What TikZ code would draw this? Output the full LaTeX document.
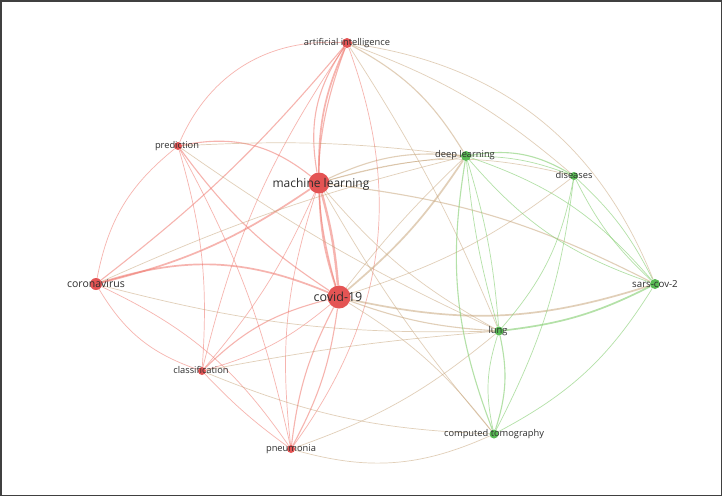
\documentclass[tikz,border=0pt]{standalone}
\usepackage{fontspec}
\setmainfont{Open Sans}
\pgfdeclarelayer{bgzero}
\pgfdeclarelayer{background}
\pgfsetlayers{bgzero,background,main}
\definecolor{rn}{RGB}{228,84,84}
\definecolor{gn}{RGB}{88,186,84}
\definecolor{re}{RGB}{240,120,110}
\definecolor{ge}{RGB}{130,205,110}
\definecolor{me}{RGB}{196,160,115}
\definecolor{lbltxt}{RGB}{45,45,45}
\tikzset{
  rnode/.style={circle,fill=rn,inner sep=0pt},
  gnode/.style={circle,fill=gn,inner sep=0pt},
  lbl/.style={text=lbltxt,inner sep=0pt,font=\fontsize{9.3}{9.3}\selectfont},
  redE/.style={draw=re,draw opacity=0.55,line width=0.7pt},
  grnE/.style={draw=ge,draw opacity=0.6,line width=0.7pt},
  mixE/.style={draw=me,draw opacity=0.5,line width=0.7pt},
  med/.style={line width=1.1pt},
  thk/.style={line width=1.7pt},
  vthk/.style={line width=2.4pt},
}
\begin{document}
\begin{tikzpicture}[x=1pt,y=-1pt]
\useasboundingbox (0,0) rectangle (722,496);
\begin{pgfonlayer}{bgzero}
\fill[white] (0,0) rectangle (722,496);
\end{pgfonlayer}
\draw[line width=1.5pt,black!75] (0.75,0.75) rectangle (721.25,495.25);
% nodes
\node[rnode,minimum size=10pt] (AI) at (347,43) {};
\node[rnode,minimum size=21pt] (ML) at (319,183) {};
\node[rnode,minimum size=23pt] (CV) at (339,297) {};
\node[rnode,minimum size=8pt] (PR) at (178,146) {};
\node[rnode,minimum size=12pt] (CO) at (96,284) {};
\node[rnode,minimum size=8pt] (CL) at (202,371) {};
\node[rnode,minimum size=8pt] (PN) at (291,449) {};
\node[gnode,minimum size=10pt] (DL) at (466,156) {};
\node[gnode,minimum size=8pt] (DI) at (574,176) {};
\node[gnode,minimum size=10pt] (SA) at (655,284) {};
\node[gnode,minimum size=9pt] (LU) at (499,331) {};
\node[gnode,minimum size=9pt] (CT) at (494,434) {};
\begin{pgfonlayer}{background}
% red cluster
\draw[redE,thk] (AI) to[bend right=12] (ML);
\draw[redE,med] (AI) to[bend right=22] (ML);
\draw[redE,med] (AI) to[bend right=18] (CV);
\draw[redE] (AI) to[bend left=28] (PN);
\draw[redE] (AI) to[bend right=10] (CL);
\draw[redE,med] (AI) to[bend left=6] (CO);
\draw[redE] (AI) to[bend right=35] (PR);
\draw[redE,vthk] (ML) to[bend left=5] (CV);
\draw[redE,thk] (ML) to[bend right=8] (CV);
\draw[redE,med] (ML) to[bend right=25] (PR);
\draw[redE,thk] (ML) to[bend left=10] (CO);
\draw[redE,thk] (CV) to[bend right=20] (CO);
\draw[redE,med] (CV) to[bend left=10] (PR);
\draw[redE] (PR) to[bend right=20] (CO);
\draw[redE,med] (CL) to[bend left=15] (CV);
\draw[redE] (CL) to[bend right=12] (CV);
\draw[redE] (CL) to[bend right=8] (ML);
\draw[redE] (CO) to[bend right=20] (CL);
\draw[redE] (CL) to[bend right=5] (PN);
\draw[redE] (CO) to[bend left=15] (PN);
\draw[redE,med] (PN) to[bend left=10] (CV);
\draw[redE,med] (PN) to[bend right=10] (CV);
\draw[redE] (PN) to[bend left=12] (ML);
\draw[redE] (PR) to[bend left=10] (CL);
\draw[redE] (PR) to[bend left=8] (PN);
% mixed
\draw[mixE,med] (ML) to[bend left=15] (DL);
\draw[mixE] (ML) to[bend left=5] (DL);
\draw[mixE] (ML) to[bend left=15] (DI);
\draw[mixE,med] (ML) to[bend left=10] (SA);
\draw[mixE] (ML) to[bend right=10] (LU);
\draw[mixE] (ML) to[bend right=5] (CT);
\draw[mixE,thk] (CV) to[bend right=8] (DL);
\draw[mixE] (CV) to[bend left=4] (DL);
\draw[mixE] (CV) to[bend right=10] (DI);
\draw[mixE,thk] (CV) to[bend right=15] (SA);
\draw[mixE,med] (CV) to[bend right=8] (LU);
\draw[mixE] (CV) to[bend left=10] (CT);
\draw[mixE,med] (AI) to[bend left=15] (DL);
\draw[mixE] (AI) to[bend left=30] (SA);
\draw[mixE] (AI) to[bend left=10] (DI);
\draw[mixE] (AI) to[bend left=5] (LU);
\draw[mixE] (PR) to[bend left=5] (DL);
\draw[mixE] (PR) to[bend right=5] (LU);
\draw[mixE] (CO) to[bend left=5] (DL);
\draw[mixE] (CO) to[bend right=8] (LU);
\draw[mixE] (CL) to[bend right=10] (CT);
\draw[mixE] (CL) to[bend left=3] (LU);
\draw[mixE] (PN) to[bend right=10] (LU);
\draw[mixE] (PN) to[bend right=20] (CT);
% green cluster
\draw[grnE,med] (DL) to[bend left=20] (DI);
\draw[grnE] (DL) to[bend left=10] (DI);
\draw[grnE] (DL) to[bend left=15] (SA);
\draw[grnE] (DL) to[bend right=15] (SA);
\draw[grnE] (DL) to[bend right=5] (LU);
\draw[grnE] (DL) to[bend left=6] (LU);
\draw[grnE,med] (DL) to[bend right=15] (CT);
\draw[grnE] (DI) to[bend left=10] (SA);
\draw[grnE] (DI) to[bend right=10] (SA);
\draw[grnE] (DI) to[bend left=15] (LU);
\draw[grnE] (DI) to[bend left=10] (CT);
\draw[grnE,thk] (SA) to[bend left=10] (LU);
\draw[grnE] (SA) to[bend left=15] (CT);
\draw[grnE,med] (LU) to[bend left=15] (CT);
\draw[grnE] (LU) to[bend right=15] (CT);
\end{pgfonlayer}
% labels
\node[lbl] (AIl) at (347,43) {artificial intelligence};
\node[lbl,font=\fontsize{12}{12}\selectfont] (MLl) at (321,184) {machine learning};
\node[lbl,font=\fontsize{12.5}{12.5}\selectfont] (CVl) at (338,297) {covid-19};
\node[lbl] (PRl) at (177,146) {prediction};
\node[lbl,font=\fontsize{10.5}{10.5}\selectfont] (COl) at (96,284) {coronavirus};
\node[lbl] (CLl) at (201,370) {classification};
\node[lbl] (PNl) at (291,449) {pneumonia};
\node[lbl] (DLl) at (465,155) {deep learning};
\node[lbl] (DIl) at (574,175) {diseases};
\node[lbl,font=\fontsize{9.7}{9.7}\selectfont] (SAl) at (655,284) {sars-cov-2};
\node[lbl] (LUl) at (498,331) {lung};
\node[lbl] (CTl) at (494,434) {computed tomography};
\end{tikzpicture}
\end{document}
